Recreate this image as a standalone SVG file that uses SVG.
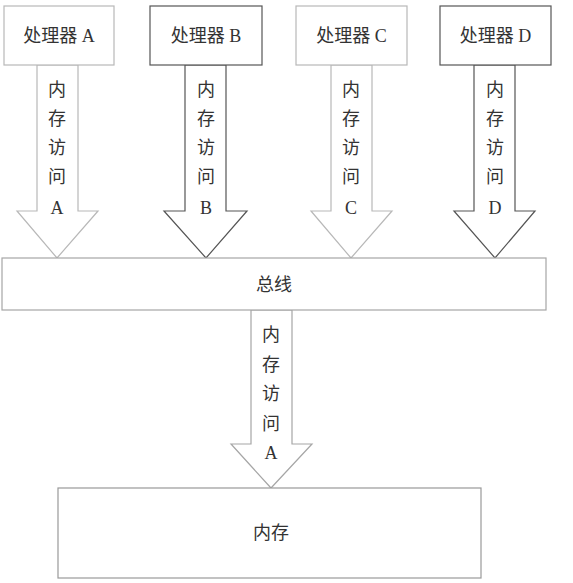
<svg xmlns="http://www.w3.org/2000/svg" width="573" height="583" viewBox="0 0 573 583">
<style>
  .box { fill: #fff; stroke-width: 1.2; }
  .light { stroke: #b8b8b8; }
  .dark { stroke: #555; }
  .mid { stroke: #a6a6a6; }
  .arrow { fill: #fff; stroke-width: 1.2; }
  text { font-family: "Liberation Serif", "Noto Sans CJK SC", serif; font-size: 18px; fill: #333; text-anchor: middle; }
</style>
<rect width="573" height="583" fill="#fff"/>
<g id="connectors">
  <g id="arrow-a">
    <polygon class="arrow light" points="37,65 78,65 78,211 98,211 57,258 17,211 37,211"/>
    <text x="57" y="96">内</text><text x="57" y="125">存</text><text x="57" y="154">访</text><text x="57" y="183">问</text><text x="57" y="214">A</text>
  </g>
  <g id="arrow-b">
    <polygon class="arrow dark" points="185,65 226,65 226,211 247,211 206,258 164,211 185,211"/>
    <text x="206" y="96">内</text><text x="206" y="125">存</text><text x="206" y="154">访</text><text x="206" y="183">问</text><text x="206" y="214">B</text>
  </g>
  <g id="arrow-c">
    <polygon class="arrow light" points="331,65 372,65 372,211 392,211 351,258 311,211 331,211"/>
    <text x="351" y="96">内</text><text x="351" y="125">存</text><text x="351" y="154">访</text><text x="351" y="183">问</text><text x="351" y="214">C</text>
  </g>
  <g id="arrow-d">
    <polygon class="arrow dark" points="474,65 515,65 515,211 535,211 495,258 454,211 474,211"/>
    <text x="495" y="96">内</text><text x="495" y="125">存</text><text x="495" y="154">访</text><text x="495" y="183">问</text><text x="495" y="214">D</text>
  </g>
  <g id="arrow-mem">
    <polygon class="arrow mid" points="251,310 292,310 292,444 312,444 271,488 231,444 251,444"/>
    <text x="271" y="341">内</text><text x="271" y="370.5">存</text><text x="271" y="400">访</text><text x="271" y="429.5">问</text><text x="271" y="459">A</text>
  </g>
</g>
<g id="proc-a"><rect class="box light" x="4" y="6" width="110" height="59"/><text x="59" y="42">处理器 A</text></g>
<g id="proc-b"><rect class="box dark" x="150" y="6" width="112" height="59"/><text x="206" y="42">处理器 B</text></g>
<g id="proc-c"><rect class="box light" x="296" y="6" width="111" height="59"/><text x="351.5" y="42">处理器 C</text></g>
<g id="proc-d"><rect class="box dark" x="440" y="6" width="111" height="59"/><text x="495.5" y="42">处理器 D</text></g>
<g id="bus"><rect class="box mid" x="2" y="258" width="544" height="52"/><text x="274" y="291">总线</text></g>
<g id="memory"><rect class="box" stroke="#999" x="58" y="488" width="423" height="90"/><text x="271" y="539" font-size="19">内存</text></g>
</svg>
